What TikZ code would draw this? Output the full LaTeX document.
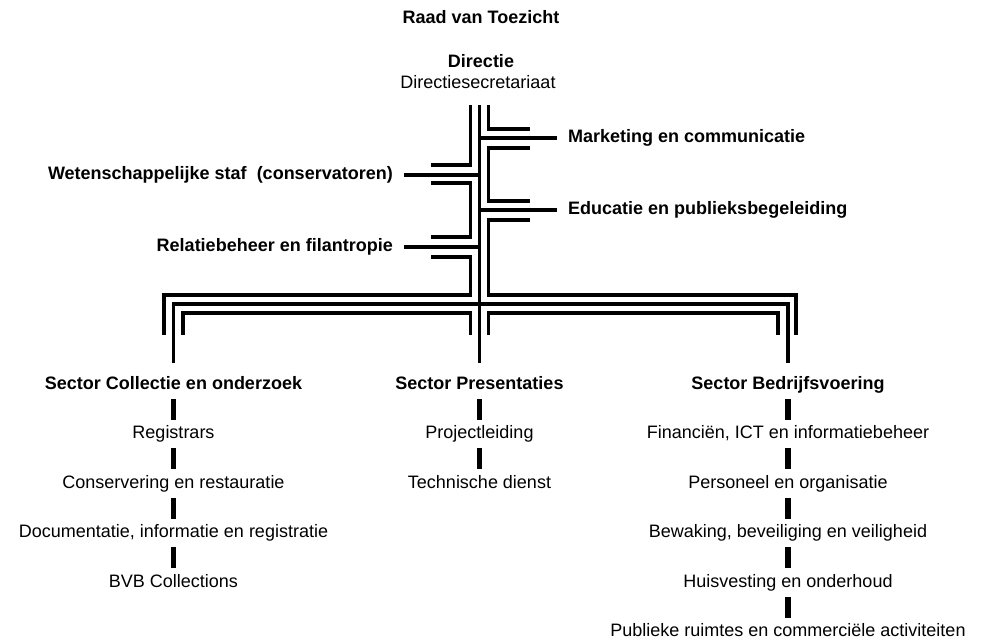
\documentclass[tikz,border=0pt]{standalone}
\usepackage{fontspec}
\setmainfont{Liberation Sans}
\usetikzlibrary{positioning, calc}

\tikzset{
  orgtxt/.style={font=\fontsize{18}{20}\selectfont, inner sep=0pt, text height=13pt, text depth=4pt},
  orghead/.style={orgtxt, font=\fontsize{18}{20}\selectfont\bfseries},
  sectorlbl/.style={orghead, inner ysep=12.5pt},
  sidelbl/.style={orghead, inner xsep=11pt},
  strand/.style={line width=3.4pt, line join=miter},
  tick/.style={line width=5.5pt},
}

\begin{document}
\begin{tikzpicture}[x=1pt, y=-1pt]
      \useasboundingbox (0,0) rectangle (989,639);

      \node[orghead] (raad) at (481,19) {Raad van Toezicht};
      \node[orghead] (dir) at (481,63.5) {Directie};
      \node[orgtxt, below of=dir, node distance=20.5pt, xshift=-3pt] (sec) {Directiesecretariaat};

      \coordinate (top) at (479.5,105);
      \coordinate (mid) at (479.5,304);

      % staff labels left and right
      \node[sidelbl, anchor=east] (wet) at (404,175) {Wetenschappelijke staf~ (conservatoren)};
      \node[sidelbl, anchor=east] (rel) at (404,247) {Relatiebeheer en filantropie};
      \node[sidelbl, anchor=west] (mark) at (557,138) {Marketing en communicatie};
      \node[sidelbl, anchor=west] (edu) at (557,210) {Educatie en publieksbegeleiding};

      % sectors
      \node[sectorlbl] (coll) at (173.5,384.5) {Sector Collectie en onderzoek};
      \node[sectorlbl] (pres) at (479.5,384.5) {Sector Presentaties};
      \node[sectorlbl] (bedr) at (788,384.5) {Sector Bedrijfsvoering};

      \node[orgtxt, below of=coll, node distance=49.5pt] (reg) {Registrars};
      \node[orgtxt, below of=reg, node distance=49.5pt] (cons) {Conservering en restauratie};
      \node[orgtxt, below of=cons, node distance=49.5pt] (doc) {Documentatie, informatie en registratie};
      \node[orgtxt, below of=doc, node distance=49.5pt] (bvb) {BVB Collections};

      \node[orgtxt, below of=pres, node distance=49.5pt] (proj) {Projectleiding};
      \node[orgtxt, below of=proj, node distance=49.5pt] (tech) {Technische dienst};

      \node[orgtxt, below of=bedr, node distance=49.5pt] (fin) {Financiën, ICT en informatiebeheer};
      \node[orgtxt, below of=fin, node distance=49.5pt] (pers) {Personeel en organisatie};
      \node[orgtxt, below of=pers, node distance=49.5pt] (bew) {Bewaking, beveiliging en veiligheid};
      \node[orgtxt, below of=bew, node distance=49.5pt] (huis) {Huisvesting en onderhoud};
      \node[orgtxt, below of=huis, node distance=49.5pt] (pub) {Publieke ruimtes en commerciële activiteiten};

      % main lines
      \draw[strand] (top) -- (pres.north);
      \draw[strand] (coll.north) |- (mid) -| (bedr.north);
      \draw[strand] (wet.east) -- (wet.east -| top);
      \draw[strand] (rel.east) -- (rel.east -| top);
      \draw[strand] (top |- mark.west) -- (mark.west);
      \draw[strand] (top |- edu.west) -- (edu.west);

      % parallel strands
      \draw[strand] (470.5,105) |- (431,165);
      \draw[strand] (431,183) -| (470.5,237) -- (431,237);
      \draw[strand] (431,257) -| (470.5,295) -| (164,335);
      \draw[strand] (183,335) |- (470.5,313) -- (470.5,335);
      \draw[strand] (488.5,105) |- (530,129);
      \draw[strand] (530,148) -| (488.5,201) -- (530,201);
      \draw[strand] (530,220) -| (488.5,295) -| (796,335);
      \draw[strand] (488.5,335) |- (778,313) -- (778,335);

      % ticks between units
      \foreach \a/\b in {coll/reg, reg/cons, cons/doc, doc/bvb, pres/proj, proj/tech,
                         bedr/fin, fin/pers, pers/bew, bew/huis, huis/pub}
        \draw[tick] ($(\a)!.29!(\b)$) -- ($(\a)!.71!(\b)$);
    \end{tikzpicture}
\end{document}
